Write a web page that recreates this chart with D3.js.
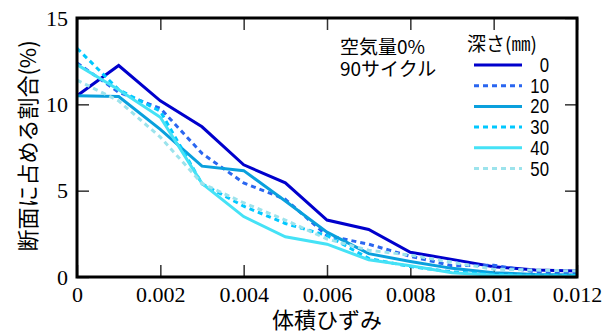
<!DOCTYPE html>
<html>
<head>
<meta charset="utf-8">
<script src="https://cdn.jsdelivr.net/npm/d3@7"></script>
<style>
  html, body { margin: 0; padding: 0; background: #fff; }
  svg { display: block; }
</style>
</head>
<body>
<svg class="chart" width="611" height="334"></svg>
<script>
// volumetric strain (x values)
const strain = [0, 0.001, 0.002, 0.003, 0.004, 0.005, 0.006, 0.007, 0.008, 0.009, 0.010, 0.011, 0.012]

// depth (mm) -> share of section (%)
const depths = ["0", "10", "20", "30", "40", "50"]
const d0  = [10.5, 12.25, 10.2, 8.7, 6.5, 5.45, 3.3, 2.75, 1.43, 1.02, 0.6, 0.4, 0.35]
const d10 = [12.4, 10.7, 9.77, 7.16, 5.45, 4.5, 2.4, 1.9, 1.2, 0.65, 0.68, 0.3, 0.2]
const d20 = [10.5, 10.45, 8.55, 6.42, 6.16, 4.4, 2.6, 1.35, 0.9, 0.5, 0.25, 0.15, 0.12]
const d30 = [13.25, 10.85, 9.6, 5.4, 4.1, 3.1, 2.4, 1.08, 0.6, 0.3, 0.15, 0.1, 0.08]
const d40 = [12.3, 10.85, 9.25, 5.42, 3.5, 2.33, 1.9, 1.0, 0.65, 0.25, 0.1, 0.05, 0.05]
const d50 = [11.4, 10.2, 8.1, 5.42, 4.3, 3.3, 2.2, 1.55, 1.27, 0.85, 0.45, 0.4, 0.35]

const xTicks = [0, 0.002, 0.004, 0.006, 0.008, 0.01, 0.012]
const yTicks = [0, 5, 10, 15]

const colors = ["#0000cc", "#2a66f0", "#0aa0dd", "#00c8ff", "#45e2f6", "#9ce3ec"]
const dashes = [null, "5,4", null, "5,4", null, "5,4"]

drawChart()

function drawChart(){
    const allSeries = [d0, d10, d20, d30, d40, d50]

    const svg = d3.select(".chart")
    const margin = {left: 77, right: 34, top: 18, bottom: 57}
    const width = +svg.attr("width") - margin.left - margin.right
    const height = +svg.attr("height") - margin.top - margin.bottom

    const x = d3.scaleLinear().domain([0, 0.012]).range([0, width])
    const y = d3.scaleLinear().domain([0, 15]).range([height, 0])

    const g = svg.append("g").attr("transform", `translate(${margin.left},${margin.top})`)

    // inward ticks on all four sides
    const tickLen = 12
    const tickStyle = sel => {
      sel.select(".domain").remove()
      sel.selectAll(".tick line").attr("stroke", "#333").attr("stroke-width", 1.5)
    }
    g.append("g").attr("transform", `translate(0,${height})`)
      .call(d3.axisBottom(x).tickValues(xTicks).tickSizeInner(-tickLen).tickSizeOuter(0).tickFormat(d => d3.format("")(+d.toFixed(3))))
      .call(tickStyle)
      .call(a => a.selectAll("text")
        .attr("y", 9).attr("fill", "#000")
        .style("font-family", "'Liberation Serif', 'Times New Roman', serif").style("font-size", "22px"))
    g.append("g")
      .call(d3.axisTop(x).tickValues(xTicks).tickSizeInner(-tickLen).tickSizeOuter(0).tickFormat(""))
      .call(tickStyle)
    g.append("g")
      .call(d3.axisLeft(y).tickValues(yTicks).tickSizeInner(-tickLen).tickSizeOuter(0))
      .call(tickStyle)
      .call(a => a.selectAll("text")
        .attr("x", -9).attr("fill", "#000")
        .style("font-family", "'Liberation Serif', 'Times New Roman', serif").style("font-size", "22px"))
    g.append("g").attr("transform", `translate(${width},0)`)
      .call(d3.axisRight(y).tickValues(yTicks).tickSizeInner(-tickLen).tickSizeOuter(0).tickFormat(""))
      .call(tickStyle)

    // lines
    const line = d3.line()
      .x((d, i) => x(strain[i]))
      .y(d => y(d))

    g.selectAll("path.series")
      .data(allSeries)
      .enter()
      .append("path")
        .attr("class", "series")
        .attr("d", line)
        .attr("fill", "none")
        .attr("stroke", (d, i) => colors[i])
        .attr("stroke-width", 3)
        .attr("stroke-dasharray", (d, i) => dashes[i])
        .attr("stroke-linejoin", "miter")

    // frame
    g.append("rect")
      .attr("width", width).attr("height", height)
      .attr("fill", "none").attr("stroke", "#000").attr("stroke-width", 3)

    // annotation (two lines in one text)
    const jp = "'Noto Sans CJK JP', 'Noto Sans', sans-serif"
    const note = svg.append("text").style("font-family", jp).style("font-size", "19px")
    note.append("tspan").attr("x", 340).attr("y", 54).text("空気量0%")
    note.append("tspan").attr("x", 340).attr("y", 76).text("90サイクル")

    // legend
    svg.append("text").attr("x", 467).attr("y", 51)
      .text("深さ(㎜)").style("font-family", jp).style("font-size", "19px")

    const legend = svg.selectAll("g.legend")
      .data(depths)
      .enter()
      .append("g")
        .attr("class", "legend")
        .attr("transform", (d, i) => `translate(0,${65 + i * 20.7})`)
    legend.append("line")
      .attr("x1", 474).attr("x2", 522)
      .attr("stroke", (d, i) => colors[i])
      .attr("stroke-width", 3)
      .attr("stroke-dasharray", (d, i) => dashes[i])
    legend.append("text")
      .attr("transform", "translate(549,7) scale(0.84,1)")
      .attr("text-anchor", "end")
      .text(d => d)
      .style("font-family", "'Liberation Sans', Arial, sans-serif")
      .style("font-size", "20px")

    // axis titles
    svg.append("text")
      .attr("x", margin.left + width / 2).attr("y", 328)
      .attr("text-anchor", "middle")
      .text("体積ひずみ")
      .style("font-family", jp).style("font-size", "22px")
    svg.append("text")
      .attr("transform", "translate(36,146) rotate(-90)")
      .attr("text-anchor", "middle")
      .text("断面に占める割合(%)")
      .style("font-family", jp).style("font-size", "22px")
}
</script>
</body>
</html>
